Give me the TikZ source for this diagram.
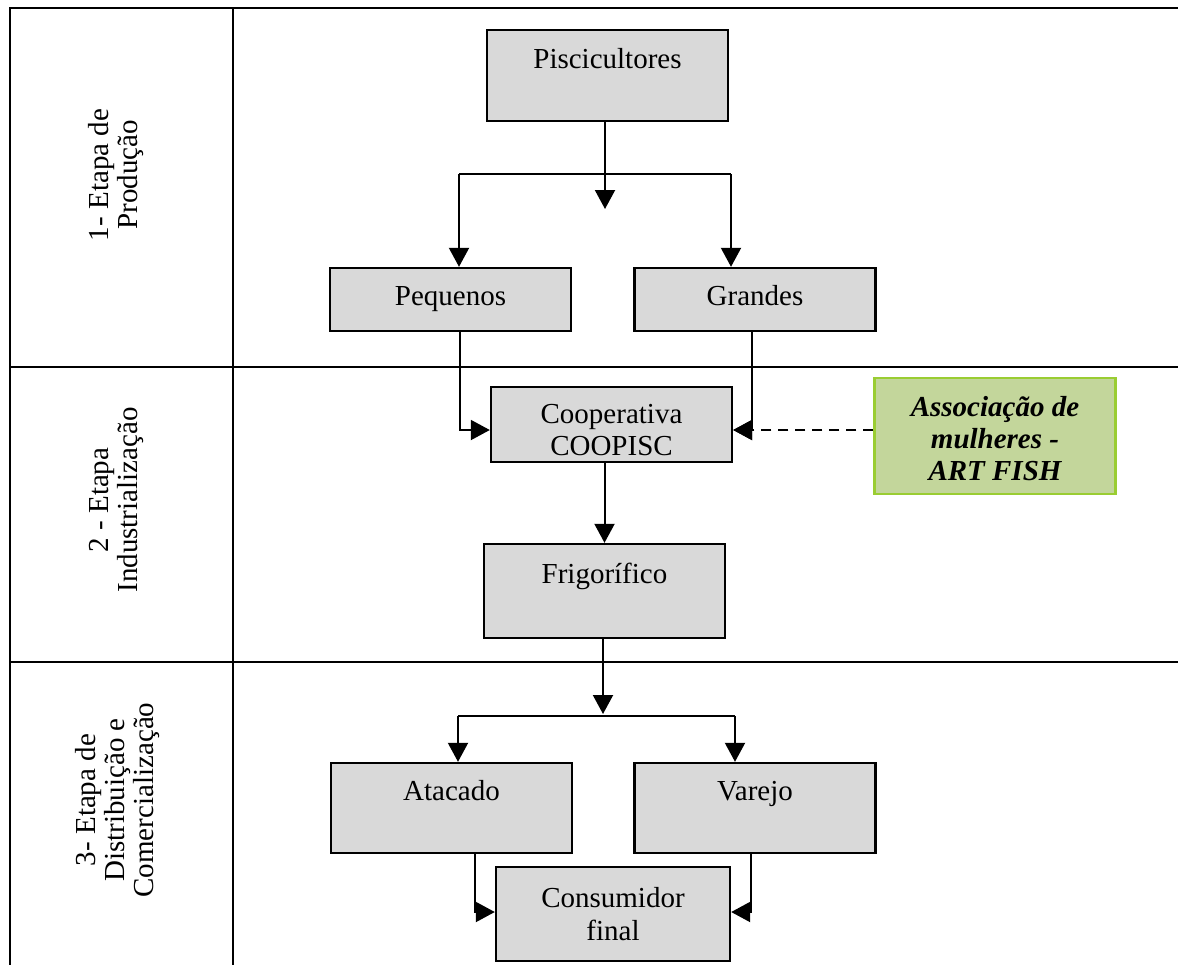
\documentclass[tikz,border=0pt]{standalone}
\usepackage{fontspec}
\setmainfont{Liberation Serif}
\usepackage{xcolor}
\usetikzlibrary{arrows.meta}
\definecolor{boxgray}{RGB}{217,217,217}
\definecolor{artfill}{RGB}{195,214,155}
\definecolor{artborder}{RGB}{154,205,50}

\begin{document}
\begin{tikzpicture}[x=.5pt,y=-.5pt,
    etapa/.style={draw=black,line width=1.2pt,fill=boxgray,inner sep=0pt,minimum width=120.5pt,align=center,font=\fontsize{14.5}{16.5}\selectfont},
    seta/.style={line width=1pt,-{Triangle[width=10pt,length=9.5pt]}},
    grade/.style={line width=1.4pt},
    fase/.style={rotate=90,align=center,font=\fontsize{14.5}{14.5}\selectfont}]
  \useasboundingbox (0,0) rectangle (1178,965);
  % quadro das etapas
  \draw[grade] (1178,8) -- (10,8) -- (10,965);
  \draw[grade] (233,8) -- (233,965);
  \draw[grade] (10,367) -- (1178,367);
  \draw[grade] (10,662) -- (1178,662);
  \node[fase] (fase1) at (116,175) {1- Etapa de\\Produção};
  \node[fase] (fase2) at (116,500) {2 - Etapa\\Industrialização};
  \node[fase] (fase3) at (118,800) {3- Etapa de\\Distribuição e\\Comercialização};
  % caixas
  \node[etapa,text height=19pt,text depth=26.5pt] (pisc) at (607.5,75.5) {Piscicultores};
  \node[etapa,text height=18.5pt,text depth=13pt] (peq) at (450.5,299.5) {Pequenos};
  \node[etapa,text height=18.5pt,text depth=13pt] (grand) at (755,299.5) {Grandes};
  \node[etapa,text height=34pt,text depth=3.5pt,font=\fontsize{14.5}{16}\selectfont] (coop) at (611.5,424.5) {Cooperativa\\COOPISC};
  \node[etapa,text height=19.5pt,text depth=27.5pt] (frigo) at (604.5,591) {Frigorífico};
  \node[etapa,text height=18.5pt,text depth=26.5pt] (atac) at (451.5,808) {Atacado};
  \node[etapa,text height=18.5pt,text depth=26.5pt] (varejo) at (755,808) {Varejo};
  \node[etapa,minimum width=117pt,text height=36.5pt,text depth=10.5pt] (cons) at (613,914) {Consumidor\\final};
  \node[etapa,draw=artborder,fill=artfill,text height=51pt,text depth=7pt,
        font=\fontsize{14.5}{16}\selectfont\bfseries\itshape] (art) at (995,436) {Associação de\\mulheres -\\ART FISH};
  % ligacoes
  \coordinate (pisctip) at (605,209);
  \coordinate (bl) at (459,174);
  \coordinate (br) at (731,174);
  \draw[seta] (pisc.south -| pisctip) -- (pisctip);
  \draw[line width=1pt] (bl) -- (br);
  \draw[seta] (bl) -- (bl |- peq.north);
  \draw[seta] (br) -- (br |- grand.north);
  \coordinate (cin) at ([yshift=-2.75pt]coop.east);
  \draw[seta] ([xshift=4.75pt]peq.south) |- ([yshift=-2.75pt]coop.west);
  \draw[seta] ([xshift=-1.5pt]grand.south) |- (cin);
  \draw[seta,dash pattern=on 5pt off 3.5pt] (art.west |- cin) -- (cin);
  \draw[seta] (frigo.north |- coop.south) -- (frigo.north);
  \coordinate (ftip) at (603,714);
  \coordinate (bl2) at (458,716);
  \coordinate (br2) at (735,716);
  \draw[seta] (frigo.south -| ftip) -- (ftip);
  \draw[line width=1pt] (bl2) -- (br2);
  \draw[seta] (bl2) -- (bl2 |- atac.north);
  \draw[seta] (br2) -- (br2 |- varejo.north);
  \draw[seta] ([xshift=11.75pt]atac.south) |- ([yshift=1pt]cons.west);
  \draw[seta] ([xshift=-2pt]varejo.south) |- ([yshift=1pt]cons.east);
\end{tikzpicture}
\end{document}
